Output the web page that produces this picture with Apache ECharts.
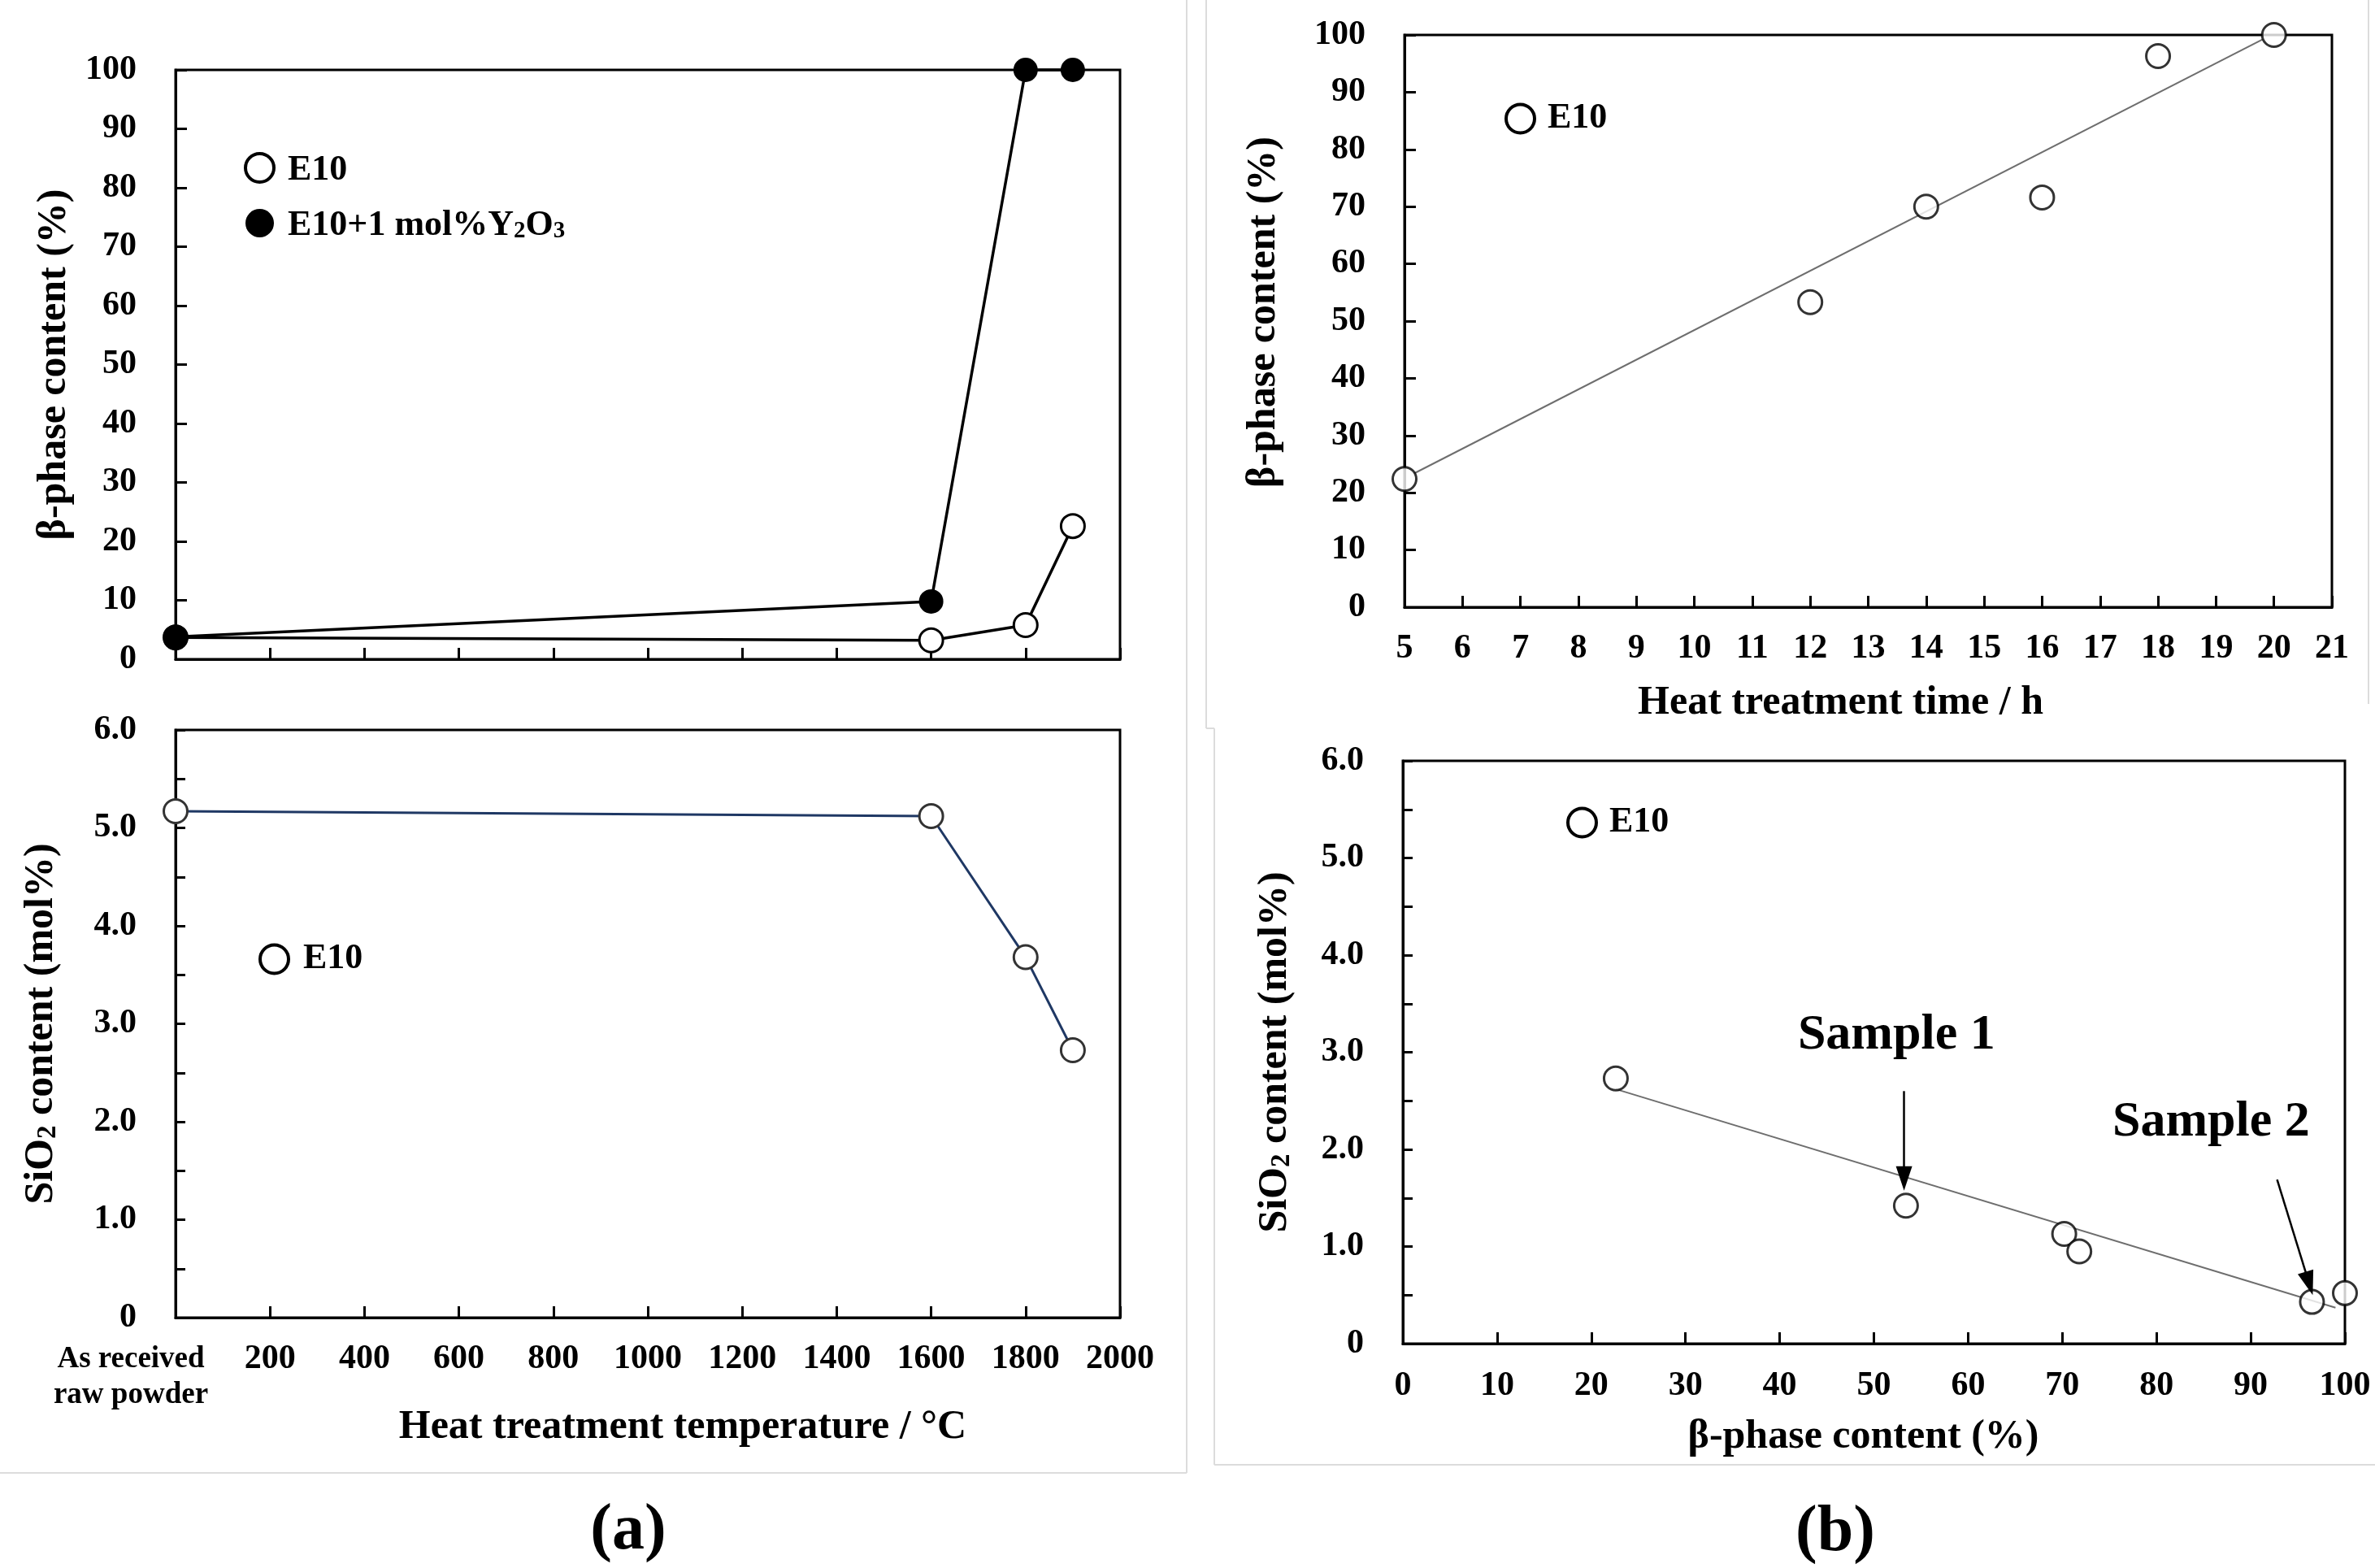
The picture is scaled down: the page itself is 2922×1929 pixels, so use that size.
<!DOCTYPE html>
<html>
<head>
<meta charset="UTF-8">
<title>beta-phase and SiO2 content</title>
<style>
html, body { margin: 0; padding: 0; background: #fff; }
#main { width: 2922px; height: 1929px; }
</style>
</head>
<body>
<div id="main"></div>
<script src="https://cdn.jsdelivr.net/npm/echarts@6/dist/echarts.min.js"></script>
<script>
// ---- data ----
// (a) upper: beta-phase content (%) vs heat treatment temperature
var tempBetaE10 = [[0, 3.7], [1600, 3.2], [1800, 5.8], [1900, 22.6]];
var tempBetaE10Y = [[0, 3.8], [1600, 9.8], [1800, 100], [1900, 100]];
// (a) lower: SiO2 content (mol%) vs heat treatment temperature
var tempSiO2 = [[0, 5.17], [1600, 5.12], [1800, 3.68], [1900, 2.73]];
// (b) upper: beta-phase content vs heat treatment time
var timeBeta = [[5, 22.4], [12, 53.3], [14, 70.0], [16, 71.6], [18, 96.3], [20, 100]];
var timeFit = [[5.17, 23.4], [19.8, 99.2]];
// (b) lower: SiO2 content vs beta-phase content
var betaSiO2 = [[22.6, 2.73], [53.4, 1.42], [70.2, 1.13], [71.8, 0.95], [96.5, 0.43], [100, 0.52]];
var betaFit = [[22.6, 2.62], [99.0, 0.37]];
// annotations in (b) lower
var sampleNames = ['Sample 1', 'Sample 2'];
var sampleTextAt = [[52.4, 3.17], [85.8, 2.28]];
var sampleArrowFrom = [[53.2, 2.60], [92.8, 1.69]];
var sampleArrowTo = [[53.2, 1.70], [96.2, 0.62]];

var FONT = 'Liberation Serif';
var chart = echarts.init(document.getElementById('main'), null, { renderer: 'canvas' });

var txt = function (size) {
	return { fontFamily: FONT, fontWeight: 'bold', fontSize: size, color: '#000' };
};
var subRich = {
	b: { fontFamily: FONT, fontWeight: 'bold', fontSize: 50, color: '#000', lineHeight: 56, verticalAlign: 'bottom' },
	s: { fontFamily: FONT, fontWeight: 'bold', fontSize: 33, color: '#000', lineHeight: 18, verticalAlign: 'bottom' }
};
var legRich = {
	b: { fontFamily: FONT, fontWeight: 'bold', fontSize: 44, color: '#000', lineHeight: 50, verticalAlign: 'bottom' },
	s: { fontFamily: FONT, fontWeight: 'bold', fontSize: 29, color: '#000', lineHeight: 16, verticalAlign: 'bottom' }
};

function siLabel(v) {
	if (v === 0) return '0';
	if (Math.abs(v % 1) < 1e-9) return v.toFixed(1);
	return '';
}

function axisBase(grid, min, max, interval) {
	return {
		type: 'value', gridIndex: grid, min: min, max: max, interval: interval,
		splitLine: { show: false },
		axisLine: { show: true, onZero: false, lineStyle: { color: '#000', width: 3 } },
		axisTick: { show: true, inside: true, length: 14, lineStyle: { color: '#000', width: 3 } },
		axisLabel: Object.assign(txt(42), { lineHeight: 44, showMinLabel: true, showMaxLabel: true, hideOverlap: false }),
		nameTextStyle: txt(50)
	};
}

var openMark = { color: '#fff', borderColor: '#000', borderWidth: 3 };
var openLegend = { icon: 'circle', itemStyle: { color: '#fff', borderColor: '#000', borderWidth: 4 } };

// x axes
var x0 = axisBase(0, 0, 2000, 200);
x0.axisLabel.show = false;

var x1 = axisBase(1, 0, 2000, 200);
x1.axisLabel.margin = 29;
x1.axisLabel.formatter = function (v) { return v === 0 ? '' : String(v); };
x1.name = 'Heat treatment temperature / °C';
x1.nameLocation = 'middle';
x1.nameGap = 110;
x1.nameTextStyle.padding = [0, 0, 0, 86];

// label for the starting point of (a) lower, kept on its own axis
var x1raw = axisBase(1, 0, 2000, 2000);
x1raw.position = 'bottom';
x1raw.axisLine = { show: false };
x1raw.axisTick = { show: false };
x1raw.axisLabel.margin = 29;
x1raw.axisLabel.formatter = function (v) {
	return v === 0 ? '{r|As received}\n{r|raw powder}' : '';
};
x1raw.axisLabel.rich = { r: { fontFamily: FONT, fontWeight: 'bold', fontSize: 37, color: '#000', lineHeight: 44, padding: [0, 110, 0, 0] } };

var x2 = axisBase(2, 5, 21, 1);
x2.axisLabel.margin = 29;
x2.name = 'Heat treatment time / h';
x2.nameLocation = 'middle';
x2.nameGap = 93;
x2.nameTextStyle.padding = [0, 68, 0, 0];

var x3 = axisBase(3, 0, 100, 10);
x3.axisLabel.margin = 30;
x3.name = 'β-phase content (%)';
x3.nameLocation = 'middle';
x3.nameGap = 90;
x3.nameTextStyle.padding = [0, 26, 0, 0];

// y axes
var y0 = axisBase(0, 0, 100, 10);
y0.axisLabel.margin = 48;
y0.name = 'β-phase content (%)';
y0.nameLocation = 'middle';
y0.nameRotate = 90;
y0.nameGap = 124;

var y1 = axisBase(1, 0, 6, 0.5);
y1.axisLabel.margin = 48;
y1.axisLabel.formatter = siLabel;
y1.axisTick.length = 12;
y1.name = '{b|SiO}{s|2}{b| content (mol%)}';
y1.nameLocation = 'middle';
y1.nameRotate = 90;
y1.nameGap = 140;
y1.nameTextStyle.rich = subRich;

var y2 = axisBase(2, 0, 100, 10);
y2.axisLabel.margin = 48;
y2.name = 'β-phase content (%)';
y2.nameLocation = 'middle';
y2.nameRotate = 90;
y2.nameGap = 148;
y2.nameTextStyle.padding = [0, 0, 0, 22];

var y3 = axisBase(3, 0, 6, 0.5);
y3.axisLabel.margin = 48;
y3.axisLabel.formatter = siLabel;
y3.axisTick.length = 12;
y3.name = '{b|SiO}{s|2}{b| content (mol%)}';
y3.nameLocation = 'middle';
y3.nameRotate = 90;
y3.nameGap = 132;
y3.nameTextStyle.rich = subRich;

var gridBox = { show: true, borderColor: '#000', borderWidth: 3, backgroundColor: 'transparent' };

var option = {
	backgroundColor: '#fff',
	animation: false,
	grid: [
		Object.assign({ left: 216, top: 86, width: 1162, height: 725 }, gridBox),
		Object.assign({ left: 216, top: 898, width: 1162, height: 723 }, gridBox),
		Object.assign({ left: 1728, top: 43, width: 1141, height: 704 }, gridBox),
		Object.assign({ left: 1726, top: 936, width: 1159, height: 717 }, gridBox)
	],
	xAxis: [x0, x1, x2, x3, x1raw],
	yAxis: [y0, y1, y2, y3],
	legend: [
		{
			orient: 'vertical', left: 300, top: 187, padding: 0, itemGap: 24,
			itemWidth: 35, itemHeight: 35, selectedMode: false,
			textStyle: Object.assign(txt(44), { padding: [0, 0, 0, 12], rich: legRich }),
			formatter: function (name) {
				return name === 'E10' ? '{b|E10}' : '{b|E10+1 mol%Y}{s|2}{b|O}{s|3}';
			},
			data: [
				Object.assign({ name: 'E10' }, openLegend),
				{ name: 'E10+1 mol%Y2O3', icon: 'circle', itemStyle: { color: '#000', borderColor: '#000', borderWidth: 0 } }
			]
		},
		{
			orient: 'vertical', left: 318, top: 1158, padding: 0,
			itemWidth: 35, itemHeight: 35, selectedMode: false,
			textStyle: Object.assign(txt(44), { padding: [0, 0, 0, 13] }),
			data: [Object.assign({ name: 'E10' }, openLegend)]
		},
		{
			orient: 'vertical', left: 1851, top: 124, padding: 0,
			itemWidth: 35, itemHeight: 35, selectedMode: false,
			textStyle: Object.assign(txt(44), { padding: [0, 0, 0, 11] }),
			data: [Object.assign({ name: 'E10' }, openLegend)]
		},
		{
			orient: 'vertical', left: 1927, top: 990, padding: 0,
			itemWidth: 35, itemHeight: 35, selectedMode: false,
			textStyle: Object.assign(txt(44), { padding: [0, 0, 0, 11] }),
			data: [Object.assign({ name: 'E10' }, openLegend)]
		}
	],
	series: [
		{
			name: 'E10', type: 'line', xAxisIndex: 0, yAxisIndex: 0, data: tempBetaE10,
			symbol: 'circle', symbolSize: 29, showAllSymbol: true, clip: false,
			lineStyle: { color: '#000', width: 3.5 }, itemStyle: openMark, z: 3
		},
		{
			name: 'E10+1 mol%Y2O3', type: 'line', xAxisIndex: 0, yAxisIndex: 0, data: tempBetaE10Y,
			symbol: 'circle', symbolSize: 30, showAllSymbol: true, clip: false,
			lineStyle: { color: '#000', width: 3.5 }, itemStyle: { color: '#000' }, z: 4
		},
		{
			name: 'E10', type: 'line', xAxisIndex: 1, yAxisIndex: 1, data: tempSiO2,
			symbol: 'circle', symbolSize: 29, showAllSymbol: true, clip: false,
			lineStyle: { color: '#1f3864', width: 3 }, itemStyle: { color: '#fff', borderColor: '#333', borderWidth: 3 }
		},
		{
			name: 'fit-time', type: 'line', xAxisIndex: 2, yAxisIndex: 2, data: timeFit,
			showSymbol: false, lineStyle: { color: '#6e6e6e', width: 2 }, z: 1
		},
		{
			name: 'E10', type: 'scatter', xAxisIndex: 2, yAxisIndex: 2, data: timeBeta,
			symbol: 'circle', symbolSize: 29, clip: false, itemStyle: openMark, z: 3
		},
		{
			name: 'fit-beta', type: 'line', xAxisIndex: 3, yAxisIndex: 3, data: betaFit,
			showSymbol: false, lineStyle: { color: '#6e6e6e', width: 2 }, z: 1
		},
		{
			name: 'E10', type: 'scatter', xAxisIndex: 3, yAxisIndex: 3, data: betaSiO2,
			symbol: 'circle', symbolSize: 29, clip: false, itemStyle: openMark, z: 3,
			markLine: {
				silent: true, animation: false,
				symbol: ['none', 'triangle'], symbolSize: [20, 30],
				lineStyle: { color: '#000', width: 2.5, type: 'solid' },
				label: { show: false },
				data: sampleArrowFrom.map(function (p, i) {
					return [{ coord: p }, { coord: sampleArrowTo[i] }];
				})
			},
			markPoint: {
				silent: true, animation: false,
				symbol: 'circle', symbolSize: 1, itemStyle: { color: 'rgba(0,0,0,0)' },
				label: Object.assign(txt(62), { show: true, position: 'inside', formatter: '{b}' }),
				data: sampleNames.map(function (n, i) {
					return { name: n, coord: sampleTextAt[i] };
				})
			}
		}
	],
	graphic: [
		// faint frames of the pasted panels
		{ type: 'line', shape: { x1: 1460, y1: 0, x2: 1460, y2: 1812 }, style: { stroke: '#dcdcdc', lineWidth: 2 } },
		{ type: 'line', shape: { x1: 0, y1: 1812, x2: 1460, y2: 1812 }, style: { stroke: '#dcdcdc', lineWidth: 2 } },
		{ type: 'line', shape: { x1: 1484, y1: 0, x2: 1484, y2: 896 }, style: { stroke: '#dcdcdc', lineWidth: 2 } },
		{ type: 'line', shape: { x1: 1484, y1: 896, x2: 1494, y2: 896 }, style: { stroke: '#dcdcdc', lineWidth: 2 } },
		{ type: 'line', shape: { x1: 2914, y1: 0, x2: 2914, y2: 866 }, style: { stroke: '#dcdcdc', lineWidth: 2 } },
		{ type: 'line', shape: { x1: 1494, y1: 896, x2: 1494, y2: 1802 }, style: { stroke: '#dcdcdc', lineWidth: 2 } },
		{ type: 'line', shape: { x1: 1494, y1: 1802, x2: 2922, y2: 1802 }, style: { stroke: '#dcdcdc', lineWidth: 2 } },
		{
			type: 'text', x: 773, y: 1884,
			style: { text: '(a)', fontFamily: FONT, fontWeight: 'bold', fontSize: 80, fill: '#000', align: 'center', verticalAlign: 'middle' }
		},
		{
			type: 'text', x: 2258, y: 1886,
			style: { text: '(b)', fontFamily: FONT, fontWeight: 'bold', fontSize: 80, fill: '#000', align: 'center', verticalAlign: 'middle' }
		}
	]
};

chart.setOption(option);
</script>
</body>
</html>
